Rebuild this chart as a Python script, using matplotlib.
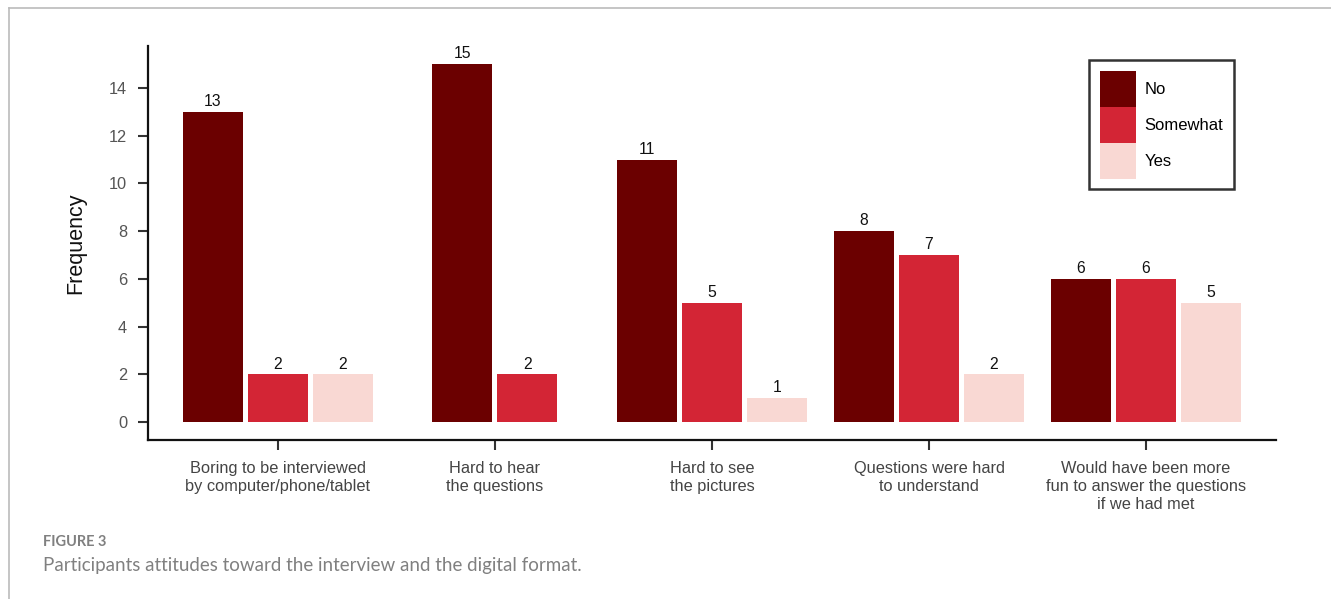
import matplotlib
matplotlib.use("Agg")
import matplotlib.pyplot as plt
from matplotlib.patches import Patch
import numpy as np

plt.rcParams['font.family'] = ['Liberation Sans', 'DejaVu Sans']

categories = ["Boring to be interviewed\nby computer/phone/tablet",
              "Hard to hear\nthe questions",
              "Hard to see\nthe pictures",
              "Questions were hard\nto understand",
              "Would have been more\nfun to answer the questions\nif we had met"]
series_names = ["No", "Somewhat", "Yes"]
no_vals = [13, 15, 11, 8, 6]
somewhat_vals = [2, 2, 5, 7, 6]
yes_vals = [2, 0, 1, 2, 5]
colors = ["#6b0000", "#d32535", "#f9d8d3"]
yticks = [0, 2, 4, 6, 8, 10, 12, 14]

W, H = 1331, 599
fig = plt.figure(figsize=(W / 100, H / 100), dpi=100)

# outer frame (top and left)
fig.add_artist(plt.Line2D([9 / W, 1], [1 - 8 / H, 1 - 8 / H], color="#bbbbbb", lw=1.2))
fig.add_artist(plt.Line2D([9 / W, 9 / W], [0, 1 - 8 / H], color="#bbbbbb", lw=1.2))

ax = fig.add_axes([148 / W, (H - 440) / H, (1276 - 148) / W, (440 - 46) / H])

bw = 60 / 217
step = 65 / 217
series = [no_vals, somewhat_vals, yes_vals]
for i in range(len(categories)):
    present = [k for k in range(3) if series[k][i] > 0]
    n = len(present)
    for j, k in enumerate(present):
        x = i + (j - (n - 1) / 2) * step
        v = series[k][i]
        ax.bar(x, v, width=bw, color=colors[k], linewidth=0)
        ax.annotate(str(v), (x, v), xytext=(0, 2), textcoords="offset points",
                    ha="center", va="bottom", fontsize=11.3, color="#111111")

handles = [Patch(facecolor=c, edgecolor="none") for c in colors]

ax.set_xlim(-0.599, 4.599)
ax.set_ylim(-0.754, 15.76)
ax.set_xticks(range(len(categories)))
ax.set_xticklabels(categories, fontsize=11.8, color="#444444", linespacing=1.27)
ax.set_yticks(yticks)
ax.set_yticklabels([str(t) for t in yticks], fontsize=11.8, color="#555555")
ax.tick_params(axis="x", length=7.5, width=1.5, color="#333333", pad=7.5)
ax.tick_params(axis="y", length=7.5, width=1.5, color="#333333", pad=7.5)
for s in ["top", "right"]:
    ax.spines[s].set_visible(False)
for s in ["left", "bottom"]:
    ax.spines[s].set_linewidth(1.6)
    ax.spines[s].set_color("#111111")
ax.set_ylabel("Frequency", fontsize=15.5, color="#111111")
ax.yaxis.set_label_coords(-0.055, (440 - 243) / (440 - 46))

fs = 12
leg = ax.legend(handles, series_names, loc="upper right",
                bbox_to_anchor=(1234 / W, 1 - 60 / H), bbox_transform=fig.transFigure,
                fontsize=fs, handlelength=2.16, handleheight=2.94, labelspacing=0,
                handletextpad=0.5, borderpad=0.65, borderaxespad=0, fancybox=False,
                frameon=True, edgecolor="#000000")
leg.get_frame().set_linewidth(1.8)

fig.text(43 / W, 1 - 542 / H, "FIGURE 3", fontsize=10.5, fontweight="bold",
         color="#808080", family=["Lato", "DejaVu Sans"], va="center", ha="left")
fig.text(43 / W, 1 - 565 / H, "Participants attitudes toward the interview and the digital format.",
         fontsize=13.5, color="#808080", family=["Lato", "DejaVu Sans"], va="center", ha="left")

fig.savefig("out.png", dpi=100)
